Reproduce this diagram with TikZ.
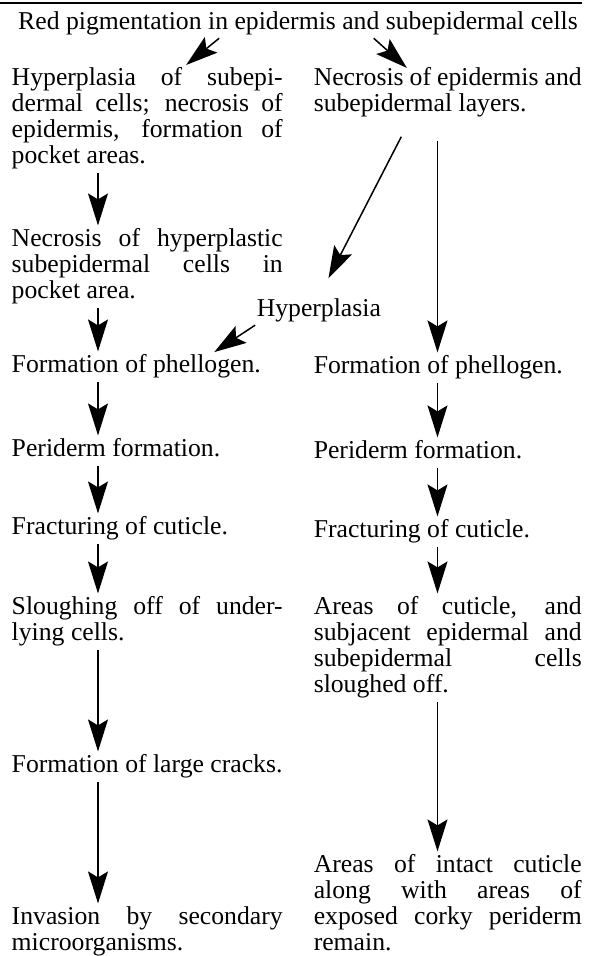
\documentclass[tikz,border=0pt]{standalone}
\usepackage{fontspec}
\setmainfont{Liberation Serif}
\usetikzlibrary{arrows.meta}
\tolerance=10000
\hyphenpenalty=10000

\begin{document}
\begin{tikzpicture}[x=1pt, y=-1pt, line width=1.5pt,
  >={Stealth[length=32pt,width=20pt,inset=6pt]},
  every node/.style={font=\fontsize{25.7}{26.2}\selectfont, inner sep=0pt, anchor=base west,
    execute at begin node=\strut, execute at end node=\strut},
  lpar/.style={text width=271pt, align=justify},
  rpar/.style={text width=268pt, align=justify},
  flow/.style={->, shorten >=1.5pt, shorten <=1pt}]
\useasboundingbox (0,0) rectangle (590,956);
\draw[line width=2pt] (0,2.5) -- (582,2.5);
\coordinate (lcol) at (98,0);
\coordinate (rcol) at (437.5,0);

\node[anchor=base] (red) at (298,29) {Red pigmentation in epidermis and subepidermal cells};
% left column
\node[lpar] (hyp) at (11,85) {Hyperplasia of subepi-\linebreak dermal cells; necrosis of\linebreak epidermis, formation of\linebreak pocket areas.};
\node[lpar] (nhyp) at (11,246) {Necrosis of hyperplastic\linebreak subepidermal cells in\linebreak pocket area.};
\node (hypl) at (256,316) {Hyperplasia};
\node (phelL) at (11,372) {Formation of phellogen.};
\node (perL) at (11,456) {Periderm formation.};
\node (fraL) at (11,534) {Fracturing of cuticle.};
\node[lpar] (slo) at (11,614) {Sloughing off of under-\linebreak lying cells.};
\node (crk) at (11,772) {Formation of large cracks.};
\node[lpar] (inv) at (11,924) {Invasion by secondary\linebreak microorganisms.};
% right column
\node[rpar] (necr) at (313,85) {Necrosis of epidermis and\linebreak subepidermal layers.};
\node (phelR) at (313,373) {Formation of phellogen.};
\node (perR) at (313,458) {Periderm formation.};
\node (fraR) at (313,537) {Fracturing of cuticle.};
\node[rpar] (areR) at (313,614) {Areas of cuticle, and\linebreak subjacent epidermal and\linebreak subepidermal cells\linebreak sloughed off.};
\node[rpar] (intR) at (313,872) {Areas of intact cuticle\linebreak along with areas of\linebreak exposed corky periderm\linebreak remain.};

\draw[flow] ([xshift=-78pt]red.south) -- ([xshift=174pt]hyp.north west);
\draw[flow] ([xshift=75pt]red.south) -- ([xshift=95pt,yshift=-3pt]necr.north west);

\draw[flow] (hyp.south -| lcol) -- (nhyp.north -| lcol);
\draw[flow] (nhyp.south -| lcol) -- (phelL.north -| lcol);
\draw[flow] (phelL.south -| lcol) -- (perL.north -| lcol);
\draw[flow] (perL.south -| lcol) -- (fraL.north -| lcol);
\draw[flow] (fraL.south -| lcol) -- (slo.north -| lcol);
\draw[flow] (slo.south -| lcol) -- (crk.north -| lcol);
\draw[flow] (crk.south -| lcol) -- (inv.north -| lcol);

\draw[flow, shorten <=21pt] (necr.south -| rcol) -- (phelR.north -| rcol);
\draw[flow, shorten <=19pt, shorten >=21pt] ([xshift=97pt]necr.south west) -- (hypl.north);
\draw[flow] (hypl.south west) -- ([xshift=202pt]phelL.north west);
\draw[flow] (phelR.south -| rcol) -- (perR.north -| rcol);
\draw[flow] (perR.south -| rcol) -- (fraR.north -| rcol);
\draw[flow] (fraR.south -| rcol) -- (areR.north -| rcol);
\draw[flow] (areR.south -| rcol) -- (intR.north -| rcol);
\end{tikzpicture}
\end{document}
